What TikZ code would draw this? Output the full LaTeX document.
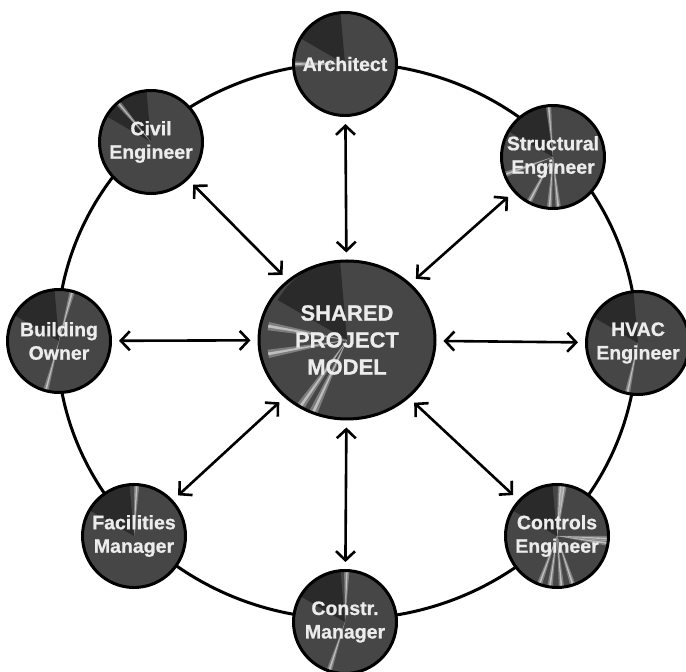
\documentclass[tikz,border=0pt]{standalone}
\usepackage{fontspec}
\setmainfont{Liberation Sans}[BoldFeatures={FakeBold=0.8}]
\usepackage{xcolor}
\usetikzlibrary{calc}
\usetikzlibrary{arrows.meta}
\usetikzlibrary{shapes.geometric}

\definecolor{discgray}{RGB}{70,70,70}
\definecolor{shadegray}{RGB}{24,24,24}
\definecolor{labelgray}{RGB}{236,236,236}

\tikzset{
  every node/.style = {font = \bfseries}
}
\tikzset{
    >={Straight Barb[length=9pt,width=19pt]}
}
\tikzset{
  disc/.style = {circle, draw=black, line width=3pt, fill=discgray,
    inner sep=0pt, minimum size=103pt, text=labelgray, align=center,
    font=\fontsize{19.5}{23.5}\selectfont\bfseries,
    path picture={
      \fill[shadegray, opacity=.6] (path picture bounding box.center)
        -- ++(95:80) arc[start angle=95, end angle=150, radius=80] -- cycle;
      \foreach \a in {#1} {
        \fill[white, opacity=.3] (path picture bounding box.center)
          -- ++({\a-3}:80) arc[start angle={\a-3}, end angle={\a+3}, radius=80] -- cycle;
        \fill[white, opacity=.5] (path picture bounding box.center)
          -- ++({\a-1}:80) arc[start angle={\a-1}, end angle={\a+1}, radius=80] -- cycle;
      }
    }},
  hub/.style = {disc={#1}, ellipse, minimum width=176pt, minimum height=158pt,
    font=\fontsize{22}{27}\selectfont\bfseries},
  link/.style = {<->, line width=2.6pt, shorten <=7pt, shorten >=7pt},
  ring/.style = {line width=3pt}
}

\begin{document}
\begin{tikzpicture}[x=1pt,y=1pt]
\useasboundingbox (0,0) rectangle (686,672);

\coordinate (O) at (347,331);

% The ring
\draw[ring] (O) ellipse [x radius=290, y radius=278];

% The members
\node[disc={180}] (arch) at (345,608) {Architect};
\node[disc={130}] (civil) at (151,530) {Civil\\Engineer};
\node[disc={95,200,242,266,276}] (struct) at (553,515) {Structural\\Engineer};
\node[disc={258}] (hvac) at (638,329) {HVAC\\Engineer};
\node[disc={82,86,-8,-3,250,262,275,288}] (ctrl) at (557,136) {Controls\\Engineer};
\node[disc={88,252}] (constr) at (345,50) {Constr.\\Manager};
\node[disc={87}] (facil) at (134,136) {Facilities\\Manager};
\node[disc={75,255}] (owner) at (59,331) {Building\\Owner};

% The shared model
\node[hub={170,190,235,245}] (model) at (347,332) {SHARED\\PROJECT\\MODEL};

% Links to the model
\foreach \n in {arch,civil,struct,hvac,ctrl,constr,facil,owner}
  \draw[link] (model) -- (\n);
\end{tikzpicture}
\end{document}
